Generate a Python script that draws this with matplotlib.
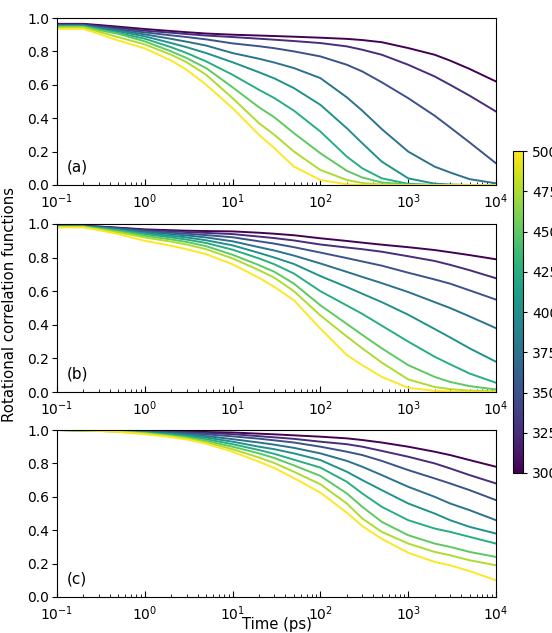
import numpy as np
import matplotlib
matplotlib.use("Agg")
import matplotlib.pyplot as plt
from matplotlib.colors import Normalize
from matplotlib.cm import ScalarMappable

# Time grid (ps)
time_ps = [0.1, 0.2, 0.3, 0.5, 1, 2, 3, 5, 10, 20, 30, 50, 100, 200, 300, 500,
           1000, 2000, 3000, 5000, 10000]

temperatures = [300, 325, 350, 375, 400, 425, 450, 475, 500]

# Panel (a)
a_300 = [.965,.965,.958,.948,.934,.922,.915,.907,.900,.895,.892,.888,.882,.875,.868,.855,.820,.780,.745,.695,.620]
a_325 = [.962,.962,.952,.940,.924,.912,.904,.895,.886,.876,.870,.862,.850,.830,.810,.780,.720,.650,.600,.535,.440]
a_350 = [.958,.958,.946,.932,.914,.896,.886,.872,.848,.831,.819,.800,.770,.720,.680,.615,.520,.415,.345,.255,.130]
a_375 = [.955,.955,.942,.926,.902,.875,.858,.835,.790,.756,.733,.700,.640,.525,.445,.335,.200,.110,.075,.035,.010]
a_400 = [.952,.952,.938,.920,.890,.850,.825,.790,.735,.675,.638,.580,.480,.340,.250,.140,.040,.008,.003,0,0]
a_425 = [.950,.950,.932,.910,.876,.825,.790,.740,.660,.570,.520,.445,.320,.170,.100,.040,.007,0,0,0,0]
a_450 = [.947,.947,.928,.905,.860,.800,.760,.700,.585,.465,.405,.310,.190,.085,.045,.015,.002,0,0,0,0]
a_475 = [.943,.943,.918,.885,.842,.780,.735,.660,.520,.370,.300,.200,.090,.030,.012,.003,0,0,0,0,0]
a_500 = [.935,.935,.905,.865,.818,.745,.690,.600,.460,.300,.220,.110,.030,.004,.001,0,0,0,0,0,0]

# Panel (b)
b_300 = [.985,.988,.985,.978,.968,.963,.960,.958,.956,.948,.942,.933,.915,.899,.889,.877,.862,.845,.832,.815,.790]
b_325 = [.985,.988,.984,.976,.964,.957,.952,.947,.940,.925,.916,.902,.878,.860,.850,.835,.808,.780,.757,.725,.677]
b_350 = [.985,.987,.982,.973,.958,.948,.942,.934,.921,.897,.883,.862,.830,.797,.777,.752,.710,.670,.645,.605,.550]
b_375 = [.985,.986,.980,.970,.953,.940,.932,.920,.897,.862,.842,.812,.765,.715,.685,.648,.595,.535,.500,.450,.380]
b_400 = [.985,.985,.978,.966,.945,.930,.920,.903,.873,.828,.800,.762,.690,.625,.585,.535,.460,.375,.325,.260,.180]
b_425 = [.984,.985,.975,.962,.940,.920,.907,.887,.847,.795,.760,.705,.600,.515,.465,.395,.300,.210,.165,.110,.055]
b_450 = [.983,.984,.972,.957,.930,.908,.893,.868,.817,.755,.715,.645,.516,.405,.340,.260,.160,.090,.060,.035,.015]
b_475 = [.982,.982,.968,.950,.920,.895,.878,.850,.795,.725,.680,.600,.456,.330,.260,.175,.075,.030,.017,.008,.003]
b_500 = [.980,.980,.963,.940,.900,.870,.850,.820,.760,.680,.625,.546,.377,.220,.160,.090,.025,.007,.003,.001,0]

# Panel (c)
c_300 = [1.0,.999,.998,.997,.995,.993,.991,.988,.985,.978,.974,.968,.960,.950,.940,.925,.900,.870,.850,.820,.780]
c_325 = [1.0,.999,.998,.996,.993,.990,.987,.982,.975,.963,.956,.947,.930,.915,.900,.875,.840,.800,.770,.730,.680]
c_350 = [1.0,.999,.997,.995,.991,.986,.981,.974,.962,.948,.938,.925,.900,.870,.850,.815,.760,.710,.680,.640,.580]
c_375 = [1.0,.999,.997,.994,.989,.981,.975,.964,.945,.925,.912,.893,.860,.815,.780,.730,.660,.600,.560,.520,.460]
c_400 = [1.0,.998,.996,.993,.986,.976,.968,.955,.930,.900,.885,.860,.820,.750,.700,.640,.560,.500,.460,.420,.380]
c_425 = [1.0,.998,.996,.992,.984,.971,.962,.945,.915,.880,.857,.822,.775,.690,.620,.540,.460,.410,.390,.360,.320]
c_450 = [1.0,.998,.995,.991,.981,.966,.955,.935,.900,.860,.832,.788,.725,.620,.540,.450,.370,.320,.300,.270,.240]
c_475 = [1.0,.998,.995,.990,.979,.962,.950,.927,.885,.835,.802,.750,.675,.560,.470,.390,.320,.270,.250,.220,.190]
c_500 = [1.0,.997,.994,.988,.975,.957,.943,.918,.870,.810,.772,.712,.625,.505,.425,.348,.265,.210,.190,.155,.100]

panels = [
    ("(a)", [a_300, a_325, a_350, a_375, a_400, a_425, a_450, a_475, a_500]),
    ("(b)", [b_300, b_325, b_350, b_375, b_400, b_425, b_450, b_475, b_500]),
    ("(c)", [c_300, c_325, c_350, c_375, c_400, c_425, c_450, c_475, c_500]),
]

W, H = 552, 633
fig = plt.figure(figsize=(W / 100, H / 100), dpi=100)

# axes boxes in pixels: (left, top, right, bottom)
boxes = [(57, 18, 496, 185), (57, 224, 496, 392), (57, 430, 496, 597)]

cmap = plt.get_cmap("viridis")
norm = Normalize(vmin=300, vmax=500)
fs = 10

for (lab, series), (l, t, r, b) in zip(panels, boxes):
    ax = fig.add_axes([l / W, 1 - b / H, (r - l) / W, (b - t) / H])
    for T, y in zip(temperatures, series):
        ax.plot(time_ps, y, color=cmap(norm(T)), lw=1.4)
    ax.set_xscale("log")
    ax.set_xlim(0.1, 1e4)
    ax.set_ylim(0, 1.0)
    ax.set_yticks([0, 0.2, 0.4, 0.6, 0.8, 1.0])
    ax.set_yticklabels(["0.0", "0.2", "0.4", "0.6", "0.8", "1.0"])
    ax.tick_params(axis="x", which="both", direction="in", labelsize=fs, pad=5)
    ax.tick_params(axis="x", which="major", length=4)
    ax.tick_params(axis="x", which="minor", length=2)
    ax.tick_params(axis="y", which="major", direction="out", length=3.5, labelsize=fs, pad=2)
    ax.text(0.023, 0.11, lab, transform=ax.transAxes, fontsize=11, va="center", ha="left")
    for s in ax.spines.values():
        s.set_linewidth(0.8)

cax = fig.add_axes([513 / W, 1 - 473 / H, 10 / W, (473 - 151) / H])
sm = ScalarMappable(norm=norm, cmap=cmap)
cb = fig.colorbar(sm, cax=cax, ticks=[300, 325, 350, 375, 400, 425, 450, 475, 500])
cb.ax.tick_params(labelsize=fs, length=3)
cb.outline.set_linewidth(0.8)

fig.text(9.5 / W, 1 - 304 / H, "Rotational correlation functions", rotation=90,
         va="center", ha="center", fontsize=10.7)
fig.text(277 / W, 1 - 625 / H, "Time (ps)", va="center", ha="center", fontsize=10.7)

fig.savefig("out.png", dpi=100)
